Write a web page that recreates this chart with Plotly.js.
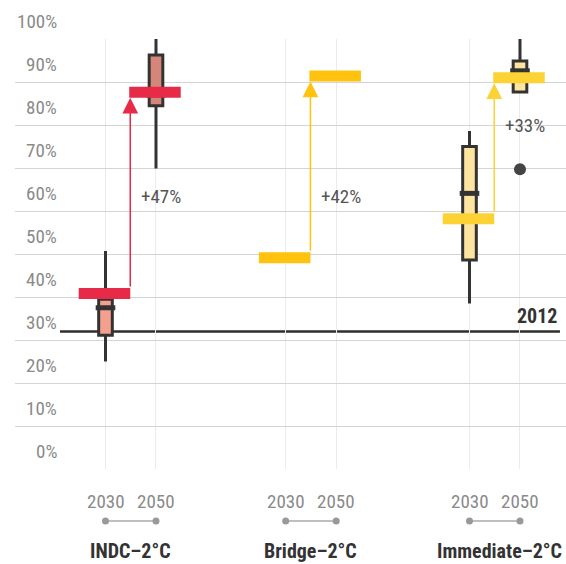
<!DOCTYPE html>
<html>
<head>
<meta charset="utf-8">
<script src="https://cdn.plot.ly/plotly-3.0.1.min.js"></script>
<style>body{margin:0;background:#fff}</style>
</head>
<body>
<div id="chart" style="width:566px;height:564px"></div>
<script>
// ---------- data ----------
const groups = ['INDC\u20132\u00b0C', 'Bridge\u20132\u00b0C', 'Immediate\u20132\u00b0C'];
const years = ['2030', '2050'];
// box statistics per [group][year] (null = no box)
const boxQ1     = [[31.1, 84.5], [null, null], [48.6, 87.7]];
const boxMedian = [[37.5, 87.0], [null, null], [64.1, 92.6]];
const boxQ3     = [[39.5, 96.3], [null, null], [75.0, 94.9]];
const boxLow    = [[25.0, 69.9], [null, null], [38.5, 87.7]];
const boxHigh   = [[50.7, 100.0], [null, null], [78.6, 100.0]];
const outliers  = [[[], []], [[], []], [[], [69.7]]];
// scenario value (coloured bar) per [group][year]
const scenarioValue = [[40.8, 87.6], [49.1, 91.4], [58.2, 91.0]];
const changeLabels = ['+47%', '+42%', '+33%'];
const baseline2012 = 32;
const baselineLabel = '2012';
const yTicks = [0, 10, 20, 30, 40, 50, 60, 70, 80, 90, 100];
const yTickLabels = ['0%', '10%', '20%', '30%', '40%', '50%', '60%', '70%', '80%', '90%', '100%'];

// ---------- style / layout constants ----------
const FONT = '"Liberation Sans Narrow", "Roboto Condensed", "Arial Narrow", "DejaVu Sans Condensed", Roboto, sans-serif';
const groupStart = [0, 3.568, 7.208];
const xOf = (g, i) => groupStart[g] + i;
const boxFill = [['#f4a08f', '#d4867a'], [null, null], ['#fde5a0', '#fde5a0']];
const barColor = ['#e62a48', '#ffc20f', '#fcd234'];
const labelY = [63.3, 63.3, 80];
const BAR_H = 2.56, BAR_W = 1.02, BAR_OFF = -0.53, BAR_PX = 11;

const traces = [];
const medX = [], medY = [];
for (let g = 0; g < groups.length; g++) {
  for (let i = 0; i < years.length; i++) {
    if (boxQ1[g][i] == null) continue;
    traces.push({
      type: 'box', x: [xOf(g, i)],
      q1: [boxQ1[g][i]], median: [boxMedian[g][i]], q3: [boxQ3[g][i]],
      lowerfence: [boxLow[g][i]], upperfence: [boxHigh[g][i]],
      width: 0.27, fillcolor: boxFill[g][i],
      line: {color: '#333333', width: 3}, whiskerwidth: 0,
      boxpoints: false, hoverinfo: 'skip', showlegend: false
    });
    medX.push(xOf(g, i)); medY.push(boxMedian[g][i]);
  }
}
traces.push({
  type: 'scatter', mode: 'markers', x: medX, y: medY, hoverinfo: 'skip', showlegend: false,
  marker: {symbol: 'line-ew', size: 14, color: '#333333', line: {color: '#333333', width: 5}}
});
// scenario bars (thick line segments, drawn above the boxes)
for (let g = 0; g < groups.length; g++) {
  const sx = [], sy = [];
  for (let i = 0; i < years.length; i++) {
    const x0 = xOf(g, i) + BAR_OFF;
    sx.push(x0, x0 + BAR_W, null);
    sy.push(scenarioValue[g][i], scenarioValue[g][i], null);
  }
  traces.push({
    type: 'scatter', mode: 'lines', x: sx, y: sy, connectgaps: false,
    line: {color: barColor[g], width: BAR_PX}, hoverinfo: 'skip', showlegend: false
  });
}
// outliers
const ox = [], oy = [];
for (let g = 0; g < groups.length; g++)
  for (let i = 0; i < years.length; i++)
    outliers[g][i].forEach(v => { ox.push(xOf(g, i)); oy.push(v); });
traces.push({
  type: 'scatter', mode: 'markers', x: ox, y: oy, hoverinfo: 'skip', showlegend: false,
  marker: {size: 12, color: '#444444'}
});

const annotations = [];
const shapes = [];
// y tick labels (above gridlines)
yTicks.forEach((v, k) => annotations.push({
  xref: 'paper', x: 0.0799, xanchor: 'right', yref: 'y', y: v, yanchor: 'middle', yshift: 17.5,
  text: yTickLabels[k], showarrow: false, font: {family: FONT, size: 19, color: '#8a8a8a'}
}));
// arrows and change labels
for (let g = 0; g < groups.length; g++) {
  const ax = xOf(g, 0) + BAR_W + BAR_OFF;
  annotations.push({
    xref: 'x', yref: 'y', axref: 'x', ayref: 'y',
    x: ax, y: scenarioValue[g][1] - BAR_H / 2,
    ax: ax, ay: scenarioValue[g][0] + BAR_H / 2,
    text: '', showarrow: true, arrowhead: 2, arrowsize: 2.1, arrowwidth: 1.5,
    arrowcolor: barColor[g], standoff: 0, startstandoff: 0
  });
  annotations.push({
    xref: 'x', yref: 'y', x: ax, y: labelY[g], xanchor: 'left', yanchor: 'middle', xshift: 9,
    text: changeLabels[g], showarrow: false, font: {family: FONT, size: 19, color: '#555555'}
  });
  // bottom year labels, dots & group labels
  for (let i = 0; i < years.length; i++) {
    annotations.push({
      xref: 'x', yref: 'paper', x: xOf(g, i), y: -0.076, yanchor: 'middle',
      text: years[i], showarrow: false, font: {family: FONT, size: 19, color: '#8a8a8a'}
    });
    shapes.push({
      type: 'circle', xref: 'x', yref: 'paper', xsizemode: 'pixel', ysizemode: 'pixel',
      xanchor: xOf(g, i), yanchor: -0.121, x0: -3.5, x1: 3.5, y0: -3.5, y1: 3.5,
      fillcolor: '#999999', line: {width: 0}
    });
  }
  shapes.push({
    type: 'line', xref: 'x', yref: 'paper', x0: xOf(g, 0), x1: xOf(g, 1), y0: -0.121, y1: -0.121,
    line: {color: '#aaaaaa', width: 1.5}, layer: 'below'
  });
  annotations.push({
    xref: 'x', yref: 'paper', x: (xOf(g, 0) + xOf(g, 1)) / 2, y: -0.19, yanchor: 'middle',
    xshift: g === 2 ? 5 : 0,
    text: '<b>' + groups[g] + '</b>', showarrow: false, font: {family: FONT, size: 20, color: '#333333'}
  });
}
// 2012 baseline
shapes.push({
  type: 'line', xref: 'paper', yref: 'y', x0: 0.0817, x1: 0.989, y0: baseline2012, y1: baseline2012,
  line: {color: '#2e2e2e', width: 2.5}, layer: 'between'
});
annotations.push({
  xref: 'paper', yref: 'y', x: 0.987, y: baseline2012, xanchor: 'right', yanchor: 'middle', yshift: 15,
  text: '<b>' + baselineLabel + '</b>', showarrow: false, font: {family: FONT, size: 20, color: '#333333'}
});

const layout = {
  width: 566, height: 564,
  margin: {l: 15, r: 0, t: 39, b: 95, pad: 0},
  paper_bgcolor: '#ffffff', plot_bgcolor: '#ffffff',
  showlegend: false, boxmode: 'overlay',
  font: {family: FONT},
  xaxis: {
    range: [-1.792, 9.119], tickvals: [0, 1, 3.568, 4.568, 7.208, 8.208],
    showticklabels: false, ticks: '', showgrid: true, gridcolor: '#ebebeb', gridwidth: 1,
    zeroline: false, showline: false, fixedrange: true
  },
  yaxis: {
    range: [0, 100], tickvals: yTicks, showticklabels: false, ticks: '',
    showgrid: true, gridcolor: '#d4d4d4', gridwidth: 1, zeroline: false, showline: false, fixedrange: true
  },
  annotations: annotations,
  shapes: shapes
};

Plotly.newPlot('chart', traces, layout, {staticPlot: true, displayModeBar: false});
</script>
</body>
</html>
